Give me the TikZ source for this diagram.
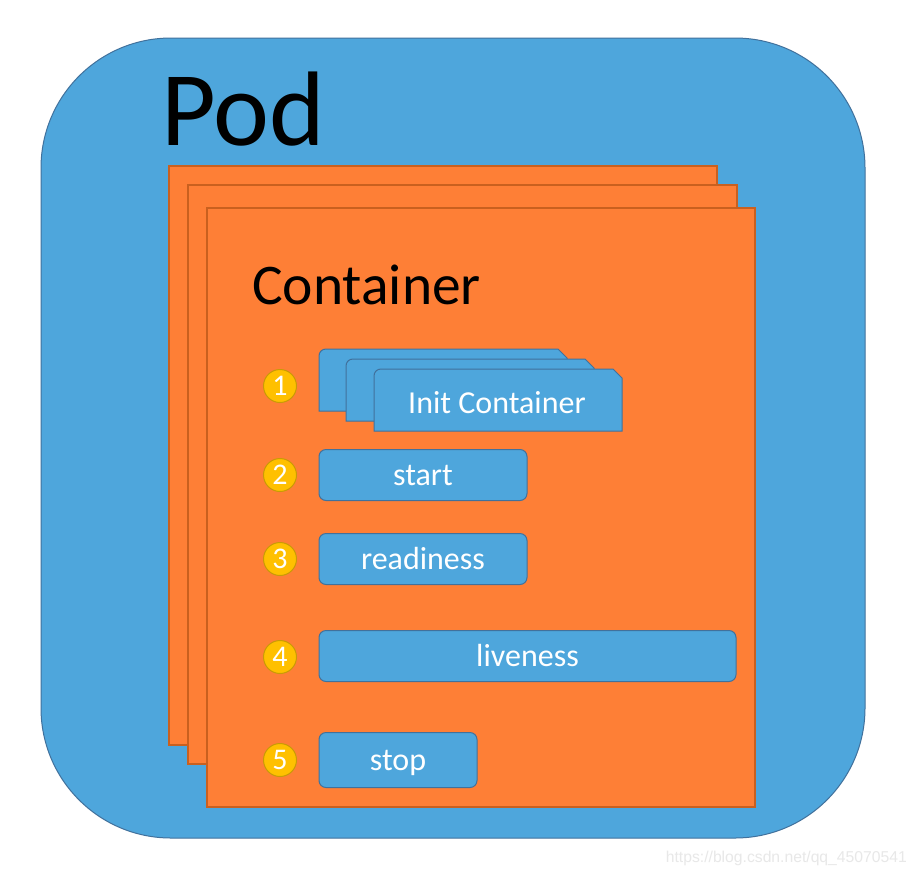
\documentclass[tikz,border=0pt]{standalone}
\usepackage{fontspec}
\setmainfont{Carlito}
\setsansfont{Liberation Sans}
\usepackage{xcolor}

\definecolor{podblue}{HTML}{4EA6DC}
\definecolor{podline}{HTML}{41719C}
\definecolor{ctorange}{HTML}{FE7F36}
\definecolor{ctline}{HTML}{C9601F}
\definecolor{stepyellow}{HTML}{FFC000}
\definecolor{stepline}{HTML}{C99A06}

\tikzset{
  layer/.style={draw=ctline, fill=ctorange, line width=1.5pt},
  initbox/.style={draw=podline, fill=podblue, line width=1pt},
  hook/.style={draw=podline, fill=podblue, rounded corners=7pt, line width=1pt, text=white,
    font=\fontsize{32}{32}\selectfont, minimum height=51pt, inner sep=0pt,
    text height=23pt, text depth=2pt},
  num/.style={circle, draw=stepline, fill=stepyellow, text=white, line width=1pt,
    minimum size=33pt, inner sep=0pt, font=\fontsize{30}{30}\selectfont},
}

\begin{document}
\begin{tikzpicture}[x=1pt, y=-1pt]
\useasboundingbox (0,0) rectangle (915,873);
\fill[white] (0,0) rectangle (915,873);
\draw[podline, fill=podblue, rounded corners=130pt, line width=1pt] (41,38) rectangle (865,838);
\node[anchor=base west, inner sep=0pt, font=\fontsize{106}{106}\selectfont] (pod) at (161,145) {Pod};
\draw[layer] (169,166) rectangle (717,745);
\draw[layer] (188,185) rectangle (737,764);
\draw[layer] (207,208) rectangle (755,807);
\node[anchor=base west, inner sep=0pt, font=\fontsize{57.5}{57.5}\selectfont] (ctr) at (252,304) {Container};
\foreach \x/\y in {319/349, 346/359, 374/369}
  \draw[initbox] (\x,\y+62) -- (\x,\y+7) .. controls (\x,\y+3) and (\x+3,\y) .. (\x+7,\y)
    -- (\x+239,\y) -- (\x+248,\y+9) -- (\x+248,\y+62) -- cycle;
\node[text=white, font=\fontsize{32}{32}\selectfont] (init) at (497,403) {Init Container};
\node[hook, minimum width=208pt] (start) at (423,475) {start};
\node[hook, minimum width=208pt] (ready) at (423,559) {readiness};
\node[hook, minimum width=417pt] (live) at (527.5,656) {liveness};
\node[hook, minimum width=158pt, minimum height=55pt] (stop) at (398,760) {stop};
\node[num] (n1) at (280,386) {1};
\node[num] (n2) at (280,475) {2};
\node[num] (n3) at (280,559) {3};
\node[num] (n4) at (280,657) {4};
\node[num] (n5) at (280,760) {5};
\node[anchor=base east, inner sep=0pt, text=black!9, font=\sffamily\fontsize{15.7}{15.7}\selectfont] (mark) at (907,862) {https://blog.csdn.net/qq\_45070541};
\end{tikzpicture}
\end{document}
